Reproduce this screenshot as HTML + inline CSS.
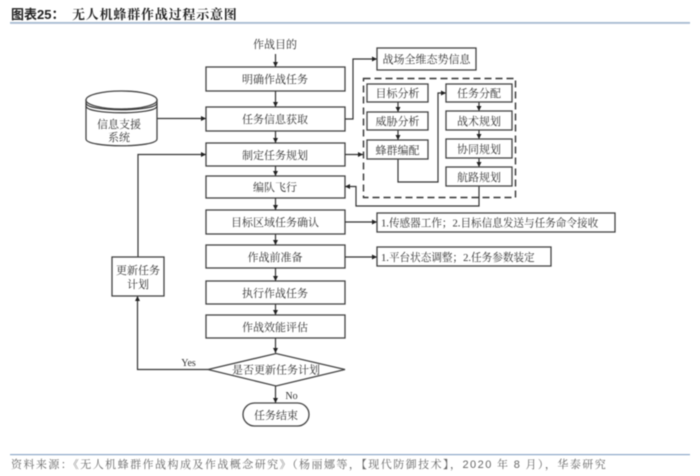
<!DOCTYPE html>
<html><head><meta charset="utf-8"><style>
html,body{margin:0;padding:0;background:#fff}
svg{display:block;filter:blur(.45px)}
text{font-family:"Liberation Serif","Noto Serif CJK SC",serif;fill:#333;font-size:11px;text-anchor:middle}
.b{fill:#fff;stroke:#444;stroke-width:1.3}
.l{fill:none;stroke:#333;stroke-width:1.2}
</style></head><body>
<svg width="700" height="476" viewBox="0 0 700 476" xmlns="http://www.w3.org/2000/svg">
<defs><marker id="a" markerWidth="6" markerHeight="6" refX="5" refY="2.5" orient="auto" markerUnits="userSpaceOnUse"><path d="M0,0L5,2.5L0,5z" fill="#222"/></marker></defs>
<text x="11" y="19" style="text-anchor:start;font-size:13px;font-weight:700;font-family:'Liberation Sans','Noto Sans CJK SC',sans-serif;fill:#222">图表25&#xFF1A;</text>
<text x="72" y="19" style="text-anchor:start;font-size:13px;font-weight:700;letter-spacing:.8px;fill:#222">无人机蜂群作战过程示意图</text>
<rect x="10" y="22" width="680" height="1.8" fill="#a6bad0"/>
<!-- main boxes -->
<rect class="b" x="206" y="67" width="139" height="24"/><text x="275" y="83">明确作战任务</text>
<rect class="b" x="206" y="107" width="139" height="24"/><text x="275" y="123">任务信息获取</text>
<rect class="b" x="206" y="143" width="139" height="23"/><text x="275" y="159">制定任务规划</text>
<rect class="b" x="206" y="176" width="139" height="22"/><text x="275" y="191">编队飞行</text>
<rect class="b" x="206" y="210" width="139" height="24"/><text x="275" y="226">目标区域任务确认</text>
<rect class="b" x="206" y="245" width="139" height="23"/><text x="275" y="261">作战前准备</text>
<rect class="b" x="206" y="281" width="139" height="23"/><text x="275" y="297">执行作战任务</text>
<rect class="b" x="206" y="315" width="139" height="23"/><text x="275" y="331">作战效能评估</text>
<path class="b" d="M208,369.5L276,353.5L345,369.5L276,386z"/><text x="276" y="373.5">是否更新任务计划</text>
<rect class="b" x="243" y="403" width="66" height="23" rx="11.5"/><text x="276" y="419">任务结束</text>
<text x="275" y="48">作战目的</text>
<!-- connectors -->
<path class="l" marker-end="url(#a)" d="M275.5,54V67"/>
<path class="l" marker-end="url(#a)" d="M275.5,91V107"/>
<path class="l" marker-end="url(#a)" d="M275.5,131V143"/>
<path class="l" marker-end="url(#a)" d="M275.5,166V176"/>
<path class="l" marker-end="url(#a)" d="M275.5,198V210"/>
<path class="l" marker-end="url(#a)" d="M275.5,234V245"/>
<path class="l" marker-end="url(#a)" d="M275.5,268V281"/>
<path class="l" marker-end="url(#a)" d="M275.5,304V315"/>
<path class="l" marker-end="url(#a)" d="M275.5,338V353"/>
<path class="l" marker-end="url(#a)" d="M275.5,386V403"/>
<path class="l" marker-end="url(#a)" d="M157,118.5H206"/>
<path class="l" marker-end="url(#a)" d="M138,257V154.5H206"/>
<path class="l" marker-end="url(#a)" d="M345,119H353V59H377"/>
<path class="l" marker-end="url(#a)" d="M345,154.5H363"/>
<path class="l" marker-end="url(#a)" d="M345,222H377"/>
<path class="l" marker-end="url(#a)" d="M345,257H377"/>
<path class="l" marker-end="url(#a)" d="M208,369.5H137.5V296"/>
<path class="l" marker-end="url(#a)" d="M479,186V206H356V186.5H345"/>
<path class="l" marker-end="url(#a)" d="M398,159V182H438V93H446"/>
<path class="l" marker-end="url(#a)" d="M398,102V112"/>
<path class="l" marker-end="url(#a)" d="M398,130V140"/>
<path class="l" marker-end="url(#a)" d="M479,102V111"/>
<path class="l" marker-end="url(#a)" d="M479,130V139"/>
<path class="l" marker-end="url(#a)" d="M479,158V167"/>
<text x="188.5" y="366" style="font-size:10px">Yes</text>
<text x="291.5" y="399" style="font-size:10px">No</text>
<!-- update box -->
<rect class="b" x="112" y="257" width="52" height="39"/>
<text x="138" y="274">更新任务</text><text x="138" y="288">计划</text>
<!-- cylinder -->
<path class="b" d="M86,100V139C86,148 157,148 157,139V100z"/>
<ellipse class="b" cx="121.5" cy="100" rx="35.5" ry="9"/>
<path class="l" d="M86,103C86,112 157,112 157,103M86,106C86,115 157,115 157,106"/>
<text x="119" y="128">信息支援</text><text x="119" y="141">系统</text>
<!-- right -->
<rect class="b" x="377" y="48" width="99" height="22"/><text x="426.5" y="63">战场全维态势信息</text>
<rect x="363.5" y="78.5" width="152" height="119" fill="none" stroke="#333" stroke-width="1.4" stroke-dasharray="7 4"/>
<rect class="b" x="367" y="84" width="61" height="18"/><text x="397.5" y="97">目标分析</text>
<rect class="b" x="367" y="112" width="61" height="18"/><text x="397.5" y="125">威胁分析</text>
<rect class="b" x="367" y="140" width="61" height="19"/><text x="397.5" y="154">蜂群编配</text>
<rect class="b" x="446" y="84" width="66" height="18"/><text x="479" y="97">任务分配</text>
<rect class="b" x="446" y="111" width="66" height="19"/><text x="479" y="125">战术规划</text>
<rect class="b" x="446" y="139" width="66" height="19"/><text x="479" y="153">协同规划</text>
<rect class="b" x="446" y="167" width="66" height="19"/><text x="479" y="181">航路规划</text>
<rect class="b" x="377" y="213" width="238" height="19"/><text x="381" y="226.5" style="text-anchor:start;font-size:10.6px">1.传感器工作&#xFF1B;2.目标信息发送与任务命令接收</text>
<rect class="b" x="377" y="247" width="174" height="19"/><text x="381" y="261" style="text-anchor:start;font-size:10.6px">1.平台状态调整&#xFF1B;2.任务参数装定</text>
<!-- footer -->
<rect x="10" y="454" width="680" height="1.2" fill="#8fa9c8"/>
<text x="11" y="468" style="text-anchor:start;font-size:11px;fill:#666;letter-spacing:1.46px">资料来源&#xFF1A;《无人机蜂群作战构成及作战概念研究》&#xFF08;杨丽娜等&#xFF0C;【现代防御技术】&#xFF0C;<tspan font-family="Liberation Sans">2020</tspan> 年 <tspan font-family="Liberation Sans">8</tspan> 月&#xFF09;&#xFF0C;华泰研究</text>
</svg></body></html>
